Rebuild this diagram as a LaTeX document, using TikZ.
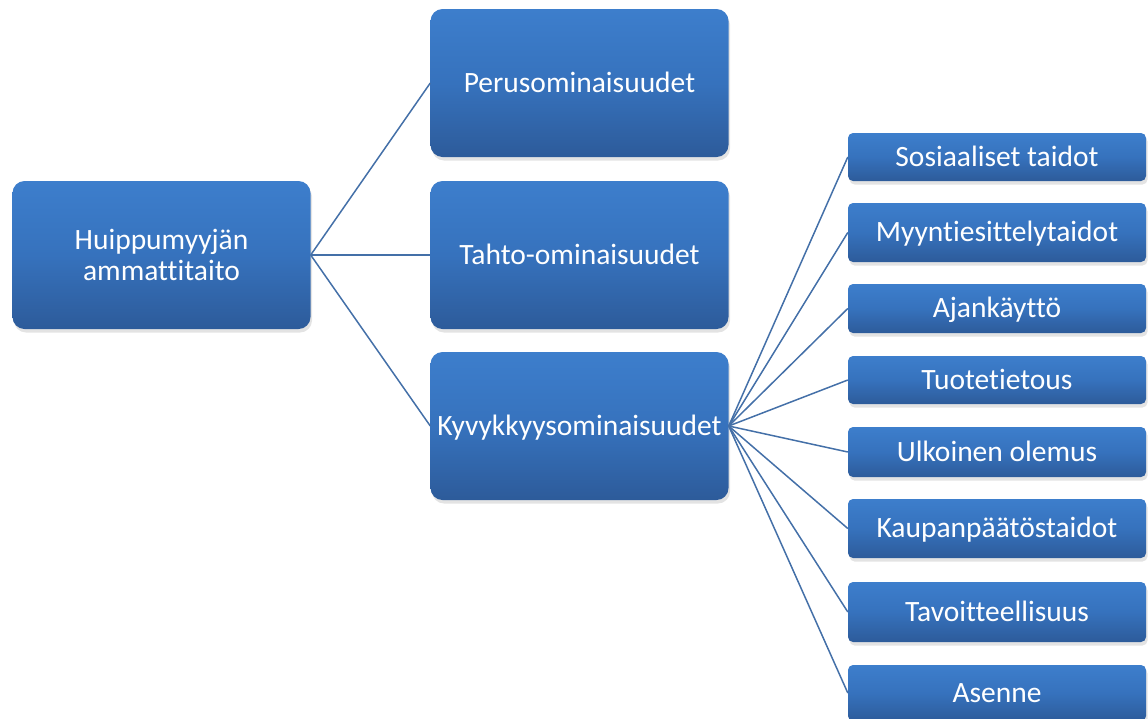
\documentclass[tikz,border=0pt]{standalone}
\usepackage{fontspec}
\setmainfont[Ligatures=NoCommon]{Carlito}
\usetikzlibrary{shadows}
\definecolor{boxtop}{HTML}{3D7ECC}
\definecolor{boxmid}{HTML}{3672BD}
\definecolor{boxbot}{HTML}{2D5B9A}
\definecolor{linec}{HTML}{4470A8}
\begin{document}
\begin{tikzpicture}[x=1pt,y=-1pt,
  box/.style={rounded corners=12pt, top color=boxtop, bottom color=boxbot, middle color=boxmid,
    text=white, font=\fontsize{29.5}{31}\selectfont, inner sep=0pt, align=center,
    drop shadow={opacity=0.22, shadow xshift=1.5pt, shadow yshift=-3.5pt}},
  big/.style={box, minimum width=298pt, minimum height=148pt},
  oneline/.style={text height=18.8pt, text depth=0pt},
  small/.style={box, oneline, rounded corners=5pt, minimum width=298pt},
  link/.style={draw=linec, line width=1.5pt}]
\useasboundingbox (0,0) rectangle (1148,718);
% main boxes
\node[big] (root) at (161.5,255) {Huippumyyjän\\ammattitaito};
\node[big, oneline] (peru) at (579.5,83) {Perusominaisuudet};
\node[big, oneline] (tahto) at (579.5,255) {Tahto-ominaisuudet};
\node[big, oneline] (kyvy) at (579.5,426) {Kyvykkyysominaisuudet};
% right boxes
\node[small, minimum height=48pt] (sos) at (997,157) {Sosiaaliset taidot};
\node[small, minimum height=59pt] (myy) at (997,232.5) {Myyntiesittelytaidot};
\node[small, minimum height=49pt] (aja) at (997,308.5) {Ajankäyttö};
\node[small, minimum height=48pt] (tuo) at (997,380) {Tuotetietous};
\node[small, minimum height=50pt] (ulk) at (997,452) {Ulkoinen olemus};
\node[small, minimum height=59pt] (kau) at (997,528.5) {Kaupanpäätöstaidot};
\node[small, minimum height=60pt] (tav) at (997,612) {Tavoitteellisuus};
\begin{scope}
\clip (0,0) rectangle (1148,718);
\node[small, minimum height=56pt] (ase) at (997,693) {Asenne};
\end{scope}
% connectors
\draw[link] (root.east) -- (peru.west);
\draw[link] (root.east) -- (tahto.west);
\draw[link] (root.east) -- (kyvy.west);
\foreach \n in {sos,myy,aja,tuo,ulk,kau,tav,ase}
  \draw[link] (kyvy.east) -- (\n.west);
\end{tikzpicture}
\end{document}
